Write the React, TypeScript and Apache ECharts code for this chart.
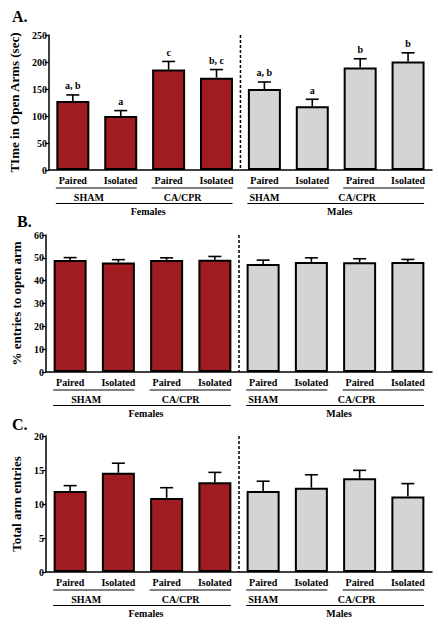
import React, { useEffect, useRef } from 'react';
import * as echarts from 'echarts';

const categories = ['Paired', 'Isolated', 'Paired', 'Isolated', 'Paired', 'Isolated', 'Paired', 'Isolated'];
const treatments = ['SHAM', 'CA/CPR', 'SHAM', 'CA/CPR'];
const sexes = ['Females', 'Males'];

const timeMeans = [128, 100, 186, 171, 150, 118, 190, 201];
const timeSem = [11, 10, 15, 15, 13, 13, 16, 16];
const timeLetters = ['a, b', 'a', 'c', 'b, c', 'a, b', 'a', 'b', 'b'];

const pctMeans = [49.1, 48.0, 49.1, 49.2, 47.3, 48.2, 48.1, 48.2];
const pctSem = [1.0, 1.2, 0.9, 1.4, 1.7, 1.8, 1.5, 1.1];

const totalMeans = [11.9, 14.6, 10.9, 13.2, 11.9, 12.4, 13.8, 11.1];
const totalSem = [0.8, 1.4, 1.5, 1.45, 1.45, 1.9, 1.15, 1.9];

const panelTitles = ['TIme in Open Arms (sec)', '% entries to open arm', 'Total arm entries'];
const panelTags = ['A.', 'B.', 'C.'];
const yMaxes = [250, 60, 20];
const ySteps = [50, 10, 5];

const FONT = '"Liberation Serif", "Times New Roman", serif';
const RED = '#a01c20';
const GREY = '#d4d4d4';

export default function App() {
  const ref = useRef<HTMLDivElement>(null);

  useEffect(() => {
    document.body.style.margin = '0';
    const chart = echarts.init(ref.current as HTMLDivElement, null, { renderer: 'svg' });

    const means = [timeMeans, pctMeans, totalMeans];
    const sems = [timeSem, pctSem, totalSem];
    const letters: (string[] | null)[] = [timeLetters, null, null];

    const grids = [
      { left: 46, right: 6, top: 35, height: 135 },
      { left: 46, right: 6, top: 235, height: 137 },
      { left: 46, right: 6, top: 436, height: 136 },
    ];

    const xAxes = grids.map((_, p) => ({
      type: 'category',
      gridIndex: p,
      data: categories,
      axisLine: { lineStyle: { color: '#000', width: 1.5 } },
      axisTick: { alignWithLabel: true, length: 3, lineStyle: { color: '#000', width: 1.2 } },
      axisLabel: { color: '#000', fontFamily: FONT, fontWeight: 'bold', fontSize: 10, margin: 5, interval: 0 },
    }));

    const yAxes = grids.map((_, p) => ({
      type: 'value',
      gridIndex: p,
      min: 0,
      max: yMaxes[p],
      interval: ySteps[p],
      name: panelTitles[p],
      nameLocation: 'middle',
      nameGap: 20,
      nameTextStyle: { color: '#000', fontFamily: FONT, fontWeight: 'bold', fontSize: 13 },
      axisLine: { show: true, lineStyle: { color: '#000', width: 1.5 } },
      axisTick: { show: true, length: 4, lineStyle: { color: '#000', width: 1.2 } },
      axisLabel: { color: '#000', fontFamily: FONT, fontWeight: 'bold', fontSize: 10, margin: 2 },
      splitLine: { show: false },
    }));

    const series: any[] = [];
    grids.forEach((_, p) => {
      series.push({
        type: 'bar',
        xAxisIndex: p,
        yAxisIndex: p,
        barWidth: 33,
        data: means[p].map((v, i) => ({
          value: v,
          itemStyle: { color: i < 4 ? RED : GREY, borderColor: '#000', borderWidth: 2 },
        })),
      });
      const lab = letters[p];
      series.push({
        type: 'custom',
        xAxisIndex: p,
        yAxisIndex: p,
        z: 5,
        data: means[p].map((v, i) => [i, v, v + sems[p][i]]),
        renderItem: (params: any, api: any) => {
          const i = api.value(0);
          const base = api.coord([i, api.value(1)]);
          const top = api.coord([i, api.value(2)]);
          const children: any[] = [
            { type: 'line', shape: { x1: base[0], y1: base[1], x2: top[0], y2: top[1] }, style: { stroke: '#000', lineWidth: 1.6 } },
            { type: 'line', shape: { x1: top[0] - 6.5, y1: top[1], x2: top[0] + 6.5, y2: top[1] }, style: { stroke: '#000', lineWidth: 1.6 } },
          ];
          if (lab) {
            children.push({
              type: 'text',
              x: top[0],
              y: top[1] - 4,
              style: {
                text: lab[params.dataIndex],
                fill: '#000',
                font: 'bold 10px ' + FONT,
                textAlign: 'center',
                textVerticalAlign: 'bottom',
              },
            });
          }
          return { type: 'group', children };
        },
      });
    });

    chart.setOption({
      animation: false,
      backgroundColor: '#fff',
      grid: grids,
      xAxis: xAxes,
      yAxis: yAxes,
      series,
    });

    const treatOffsets = [16, 14, 0, -3];
    const tagPos = [[12, 16], [17, 221], [12, 424]];
    const g: any[] = [];
    grids.forEach((_, p) => {
      const xs = categories.map((_, i) => (chart.convertToPixel({ gridIndex: p }, [i, 0]) as number[])[0]);
      const axisY = (chart.convertToPixel({ gridIndex: p }, [0, 0]) as number[])[1];
      const topY = (chart.convertToPixel({ gridIndex: p }, [0, yMaxes[p]]) as number[])[1];
      const dx = (xs[3] + xs[4]) / 2;
      g.push({ type: 'line', shape: { x1: dx, y1: topY, x2: dx, y2: axisY }, style: { stroke: '#000', lineWidth: 1.5, lineDash: [3, 2] } });
      treatments.forEach((t, k) => {
        const a = xs[2 * k] - 17;
        const b = xs[2 * k + 1] + 16;
        g.push({ type: 'line', shape: { x1: a, y1: axisY + 18, x2: b, y2: axisY + 18 }, style: { stroke: '#000', lineWidth: 1.2 } });
        g.push({
          type: 'text', x: xs[2 * k] + treatOffsets[k], y: axisY + 27,
          style: { text: t, fill: '#000', font: 'bold 10px ' + FONT, textAlign: 'center', textVerticalAlign: 'middle' },
        });
      });
      sexes.forEach((s, k) => {
        const a = xs[4 * k] - 17;
        const b = xs[4 * k + 3] + 16;
        g.push({ type: 'line', shape: { x1: a, y1: axisY + 33.5, x2: b, y2: axisY + 33.5 }, style: { stroke: '#000', lineWidth: 1.2 } });
        g.push({
          type: 'text', x: (a + b) / 2 + 4, y: axisY + 41.5,
          style: { text: s, fill: '#000', font: 'bold 10px ' + FONT, textAlign: 'center', textVerticalAlign: 'middle' },
        });
      });
      g.push({
        type: 'text', x: tagPos[p][0], y: tagPos[p][1],
        style: { text: panelTags[p], fill: '#000', font: 'bold 16px ' + FONT, textAlign: 'left', textVerticalAlign: 'middle' },
      });
    });
    chart.setOption({ graphic: g });

    return () => chart.dispose();
  }, []);

  return <div ref={ref} style={{ position: 'absolute', left: 0, top: 0, width: 438, height: 626 }} />;
}
